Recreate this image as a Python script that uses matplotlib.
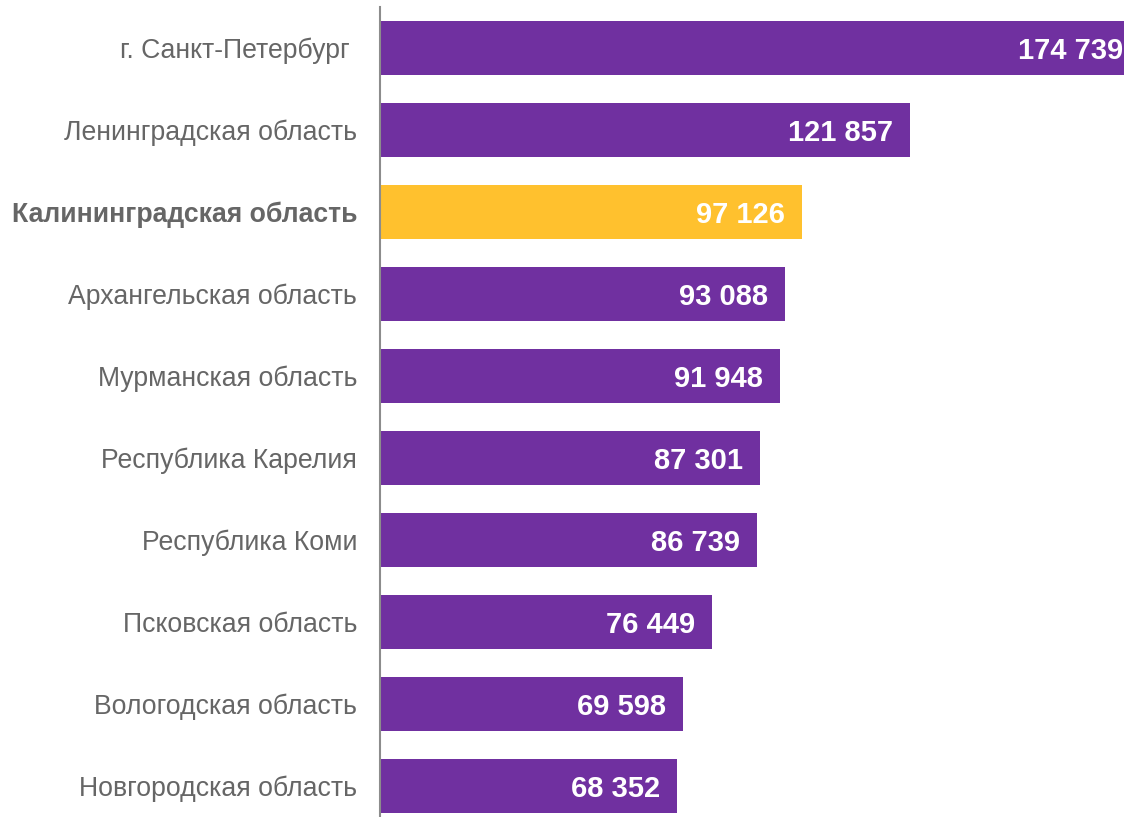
import matplotlib
matplotlib.use('Agg')
import matplotlib.pyplot as plt

plt.rcParams['font.family'] = ['Liberation Sans', 'DejaVu Sans']

regions = ['г. Санкт-Петербург ', 'Ленинградская область', 'Калининградская область',
           'Архангельская область', 'Мурманская область', 'Республика Карелия',
           'Республика Коми', 'Псковская область', 'Вологодская область',
           'Новгородская область']
values = [174739, 121857, 97126, 93088, 91948, 87301, 86739, 76449, 69598, 68352]
highlight = 'Калининградская область'

purple = '#7030A0'
yellow = '#FFC12E'
grey = '#666666'

W, H = 1124, 817
fig = plt.figure(figsize=(W / 100, H / 100), dpi=100)
# axes runs a little past the bottom and right edges, like the source
ax = fig.add_axes([380 / W, -10 / H, 744 / W, 820 / H])

colors = [yellow if r == highlight else purple for r in regions]
ypos = list(range(len(regions)))
ax.barh(ypos, values, height=0.65, color=colors, zorder=2)

ax.set_xlim(0, 171100)
ax.set_ylim(len(regions) - 0.5, -0.5)

for y, v in zip(ypos, values):
    lab = f'{v:,}'.replace(',', ' ')
    xe = min(v, 171100)
    ax.annotate(lab, (xe, y), xytext=(-17 if v < 171100 else -1, -3),
                textcoords='offset pixels', ha='right', va='center',
                color='white', fontsize=21, fontweight='bold', zorder=3,
                annotation_clip=False)

ax.set_yticks(ypos)
ax.set_yticklabels(regions, fontsize=19.2, color=grey)
for t in ax.get_yticklabels():
    if t.get_text() == highlight:
        t.set_fontweight('bold')
ax.tick_params(axis='y', length=0, pad=16.5)
ax.set_xticks([])

for s in ['top', 'right', 'bottom']:
    ax.spines[s].set_visible(False)
ax.spines['left'].set_color('#8c8c8c')
ax.spines['left'].set_linewidth(1.5)
ax.spines['left'].set_zorder(4)

fig.savefig('out.png', dpi=100)
